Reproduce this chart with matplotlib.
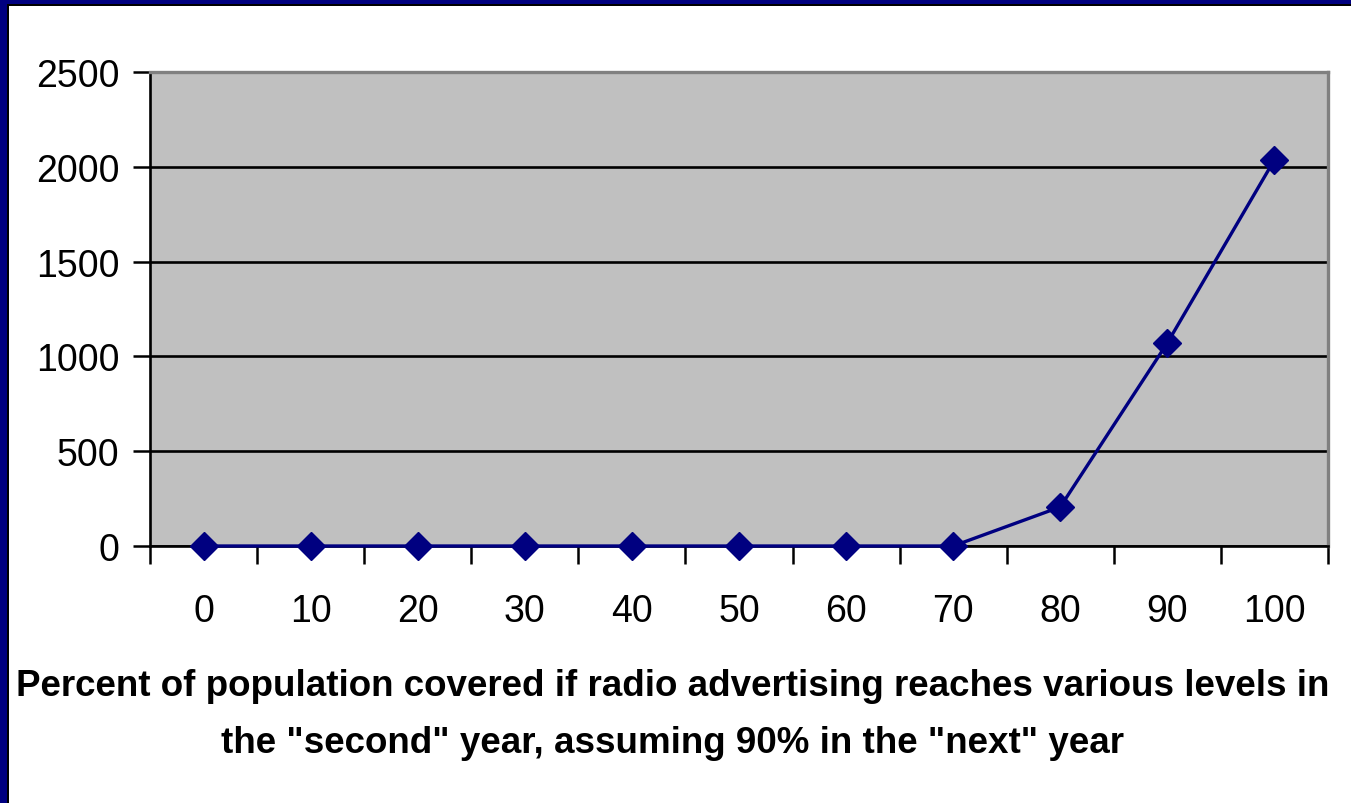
import matplotlib.pyplot as plt
from matplotlib.patches import Rectangle

categories = ["0", "10", "20", "30", "40", "50", "60", "70", "80", "90", "100"]
values = [0, 0, 0, 0, 0, 0, 0, 0, 206, 1071, 2037]
y_ticks = [0, 500, 1000, 1500, 2000, 2500]
x_label = ('Percent of population covered if radio advertising reaches various levels in\n'
           'the "second" year, assuming 90% in the "next" year')

plt.rcParams["font.family"] = ["Liberation Sans", "DejaVu Sans"]

fig = plt.figure(figsize=(13.51, 8.04), dpi=100, facecolor="white")
ax = fig.add_axes([150 / 1351, 1 - 547 / 804, 1178 / 1351, 474 / 804])
ax.set_facecolor("#c0c0c0")

x = list(range(len(categories)))
ax.plot(x, values, color="#000080", linewidth=2.4, marker="D",
        markersize=14, markerfacecolor="#000080", markeredgecolor="#000080",
        zorder=3, clip_on=False)

ax.set_xlim(-0.5, len(categories) - 0.5)
ax.set_ylim(0, 2500)
ax.set_yticks(y_ticks)
ax.set_yticklabels([str(v) for v in y_ticks], fontsize=27)
ax.yaxis.grid(True, color="black", linewidth=1.9)
ax.set_axisbelow(True)

# category labels centred, tick marks between categories
ax.set_xticks(x)
ax.set_xticklabels(categories, fontsize=27)
ax.tick_params(axis="x", which="major", length=0, pad=34)
ax.set_xticks([i - 0.5 for i in range(len(categories) + 1)], minor=True)
ax.tick_params(axis="x", which="minor", length=13, width=1.8, color="black", direction="out")
ax.tick_params(axis="y", length=12, width=1.8, color="black", pad=10)

for side in ("left", "bottom"):
    ax.spines[side].set_color("black")
    ax.spines[side].set_linewidth(1.9)
for side in ("top", "right"):
    ax.spines[side].set_color("#808080")
    ax.spines[side].set_linewidth(2.4)

fig.text(0.498, 1 - 715 / 804, x_label, ha="center", va="center",
         fontsize=26.5, fontweight="bold", linespacing=1.8)

# slide frame: navy band with black inner edge on top and left
fig.patches.append(Rectangle((0, 1 - 5 / 804), 1, 5 / 804, transform=fig.transFigure,
                             facecolor="#000080", edgecolor="none"))
fig.patches.append(Rectangle((0, 1 - 7 / 804), 1, 2 / 804, transform=fig.transFigure,
                             facecolor="black", edgecolor="none"))
fig.patches.append(Rectangle((0, 0), 7 / 1351, 1, transform=fig.transFigure,
                             facecolor="#000080", edgecolor="none"))
fig.patches.append(Rectangle((7 / 1351, 0), 2 / 1351, 1 - 5 / 804, transform=fig.transFigure,
                             facecolor="black", edgecolor="none"))

fig.savefig("out.png", dpi=100)
